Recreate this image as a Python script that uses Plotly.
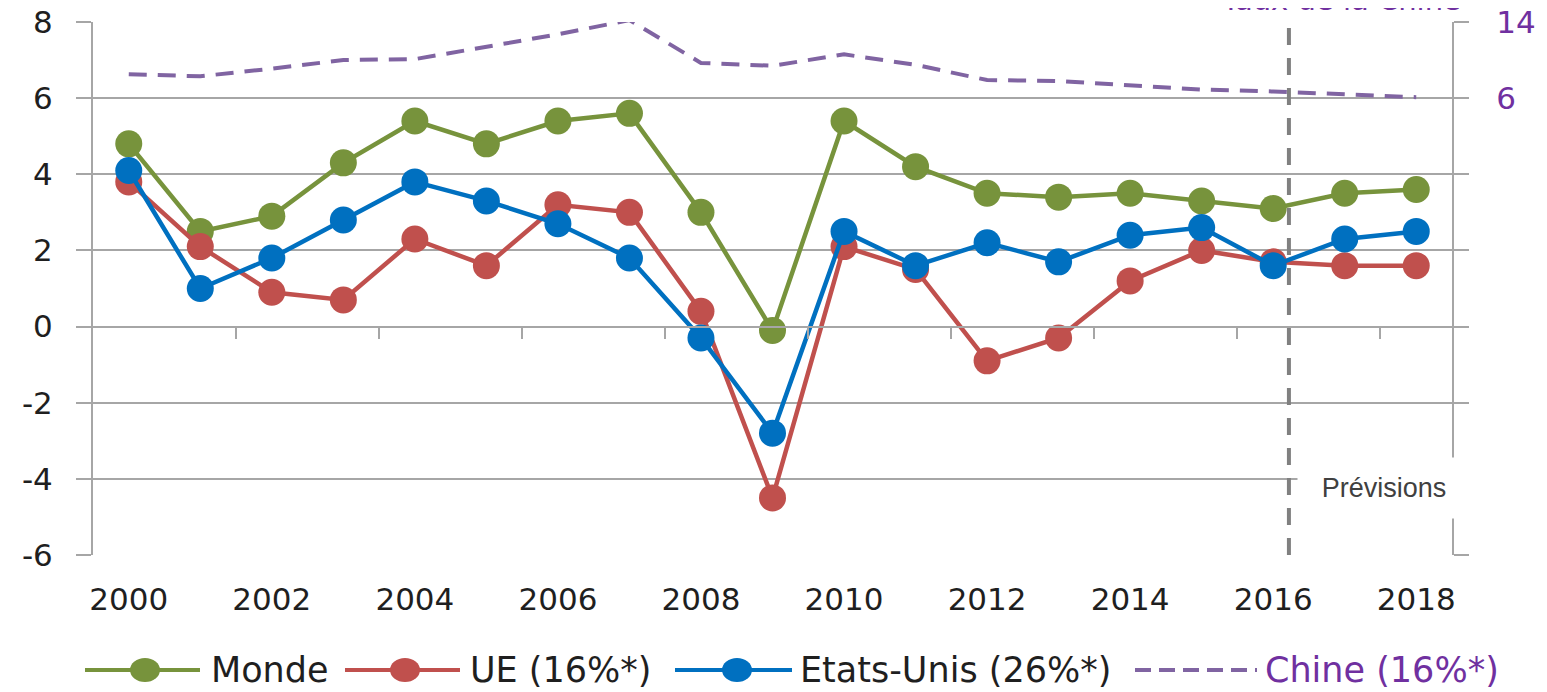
import plotly.graph_objects as go

# ---------------- data ----------------
years = list(range(2000, 2019))
monde = [4.8, 2.5, 2.9, 4.3, 5.4, 4.8, 5.4, 5.6, 3.0, -0.1, 5.4, 4.2, 3.5, 3.4, 3.5, 3.3, 3.1, 3.5, 3.6]
ue = [3.8, 2.1, 0.9, 0.7, 2.3, 1.6, 3.2, 3.0, 0.4, -4.5, 2.1, 1.5, -0.9, -0.3, 1.2, 2.0, 1.7, 1.6, 1.6]
usa = [4.1, 1.0, 1.8, 2.8, 3.8, 3.3, 2.7, 1.8, -0.3, -2.8, 2.5, 1.6, 2.2, 1.7, 2.4, 2.6, 1.6, 2.3, 2.5]
chine = [8.5, 8.3, 9.1, 10.0, 10.1, 11.4, 12.7, 14.2, 9.7, 9.4, 10.6, 9.5, 7.9, 7.8, 7.3, 6.9, 6.7, 6.4, 6.1]

x_tick_years = [2000, 2002, 2004, 2006, 2008, 2010, 2012, 2014, 2016, 2018]
x_minor_ticks = [2001.5, 2003.5, 2005.5, 2007.5, 2009.5, 2011.5, 2013.5, 2015.5, 2017.5]
left_ticks = [-6, -4, -2, 0, 2, 4, 6, 8]
left_tick_text = ["-6", "-4", "-2", "0", "2", "4", "6", "8"]
right_tick_vals = [-42, -34, -26, -18, -10, -2, 6, 14]
right_tick_text = ["", "", "", "", "", "", "6", "14"]
forecast_start = 2016.22

names = ["Monde", "UE (16%*)", "Etats-Unis (26%*)", "Chine (16%*)"]

# ---------------- styles ----------------
GREEN = "#77933C"
RED = "#C0504D"
BLUE = "#0070C0"
CHINA_LINE = "#8064A2"
PURPLE = "#7030A0"
GRID = "#A6A6A6"
TXT = "#1F1F1F"
TICK_FONT = "DejaVu Sans"
LEG_FONT = "DejaVu Sans"

# page is 1547x692, the html body adds an 8px offset
OFF = 8
W, H = 1547 - OFF, 692 - OFF
# plot area in page pixels: x 93..1452, y 22..555
PL, PR, PT, PB = 93, 1452, 22, 555
L, T = PL - OFF, PT - OFF
R = W - (PR - OFF)
B = H - (PB - OFF)
PW = PR - PL
PH = PB - PT


def px2x(px):
    return (px - PL) / PW


def py2y(py):
    return (PB - py) / PH


fig = go.Figure()
for vals, col, nm in [(monde, GREEN, names[0]), (ue, RED, names[1]), (usa, BLUE, names[2])]:
    fig.add_trace(go.Scatter(
        x=years, y=vals, name=nm, mode="lines+markers",
        line=dict(color=col, width=4.5),
        marker=dict(color=col, size=27, line=dict(width=0)),
        showlegend=False,
    ))

fig.add_trace(go.Scatter(
    x=years, y=chine, name=names[3], mode="lines",
    line=dict(color=CHINA_LINE, width=4, dash="18px,11px"),
    xaxis="x2", yaxis="y2", showlegend=False,
))

fig.update_layout(
    width=W, height=H, autosize=False,
    margin=dict(l=L, r=R, t=T, b=B, pad=0, autoexpand=False),
    paper_bgcolor="white", plot_bgcolor="white",
    showlegend=False,
    xaxis=dict(
        range=[1999.5, 2018.5], tickvals=x_tick_years, ticks="",
        showgrid=False, zeroline=False, showline=False, automargin=False,
        tickfont=dict(family=TICK_FONT, size=31, color=TXT),
        ticklabelstandoff=23,
    ),
    xaxis2=dict(
        range=[1999.5, 2018.5], overlaying="x", anchor="free",
        position=6 / 14, side="bottom", automargin=False,
        tickvals=x_minor_ticks, ticks="outside", ticklen=11, tickwidth=2,
        tickcolor=GRID, showticklabels=False, showgrid=False, zeroline=False,
        showline=True, linecolor=GRID, linewidth=2,
    ),
    yaxis=dict(
        range=[-6, 8], tickvals=left_ticks, ticktext=left_tick_text,
        showgrid=True, automargin=False, ticklabeloverflow="allow",
        gridcolor=GRID, gridwidth=2, zeroline=False,
        ticks="outside", ticklen=15, tickwidth=2, tickcolor=GRID,
        showline=True, linecolor=GRID, linewidth=2,
        tickfont=dict(family=TICK_FONT, size=31, color=TXT),
        ticklabelstandoff=17,
    ),
    yaxis2=dict(
        range=[-42, 14], overlaying="y", side="right", anchor="x2",
        tickvals=right_tick_vals, ticktext=right_tick_text, automargin=False,
        ticklabeloverflow="allow",
        showgrid=False, zeroline=False,
        ticks="outside", ticklen=15, tickwidth=2, tickcolor=GRID,
        showline=True, linecolor=GRID, linewidth=2,
        tickfont=dict(family=TICK_FONT, size=31, color=PURPLE),
        ticklabelstandoff=21,
    ),
)

shapes = []
annotations = []

# forecast separator
shapes.append(dict(
    type="line", xref="x", yref="paper", x0=forecast_start, x1=forecast_start,
    y0=0, y1=py2y(17), line=dict(color="#808080", width=4, dash="17px,13px"),
    layer="above",
))

# "Prévisions" box
annotations.append(dict(
    text="Prévisions", xref="paper", yref="paper",
    x=px2x(1384), y=py2y(488), xanchor="center", yanchor="middle",
    showarrow=False, bgcolor="white", width=170, height=58,
    font=dict(family="Liberation Sans", size=27, color="#404040"),
))

# cut-off axis title on top right
annotations.append(dict(
    text="Taux de la Chine", xref="paper", yref="paper",
    x=px2x(1463), y=py2y(0), xanchor="right", yanchor="middle",
    showarrow=False,
    font=dict(family=LEG_FONT, size=29, color=PURPLE),
))

# custom legend (page pixel positions)
LEG_Y = 670
legend_items = [
    (names[0], GREEN, 85, 200, 145, 209, TXT, "solid"),
    (names[1], RED, 345, 460, 405, 468, TXT, "solid"),
    (names[2], BLUE, 675, 792, 737, 798, TXT, "solid"),
    (names[3], CHINA_LINE, 1135, 1257, None, 1263, PURPLE, "16px,8px"),
]
for nm, col, lx0, lx1, mx, tx, tcol, dash in legend_items:
    shapes.append(dict(
        type="line", xref="paper", yref="paper",
        x0=px2x(lx0), x1=px2x(lx1), y0=py2y(LEG_Y), y1=py2y(LEG_Y),
        line=dict(color=col, width=4, dash=dash),
    ))
    if mx is not None:
        shapes.append(dict(
            type="circle", xref="paper", yref="paper",
            xsizemode="pixel", ysizemode="pixel",
            xanchor=px2x(mx), yanchor=py2y(LEG_Y),
            x0=-15, x1=15, y0=-12, y1=12,
            fillcolor=col, line=dict(width=0),
        ))
    annotations.append(dict(
        text=nm, xref="paper", yref="paper",
        x=px2x(tx), y=py2y(LEG_Y), xanchor="left", yanchor="middle",
        showarrow=False,
        font=dict(family=LEG_FONT, size=35, color=tcol),
    ))

fig.update_layout(shapes=shapes, annotations=annotations)
fig.write_html("out.html")
